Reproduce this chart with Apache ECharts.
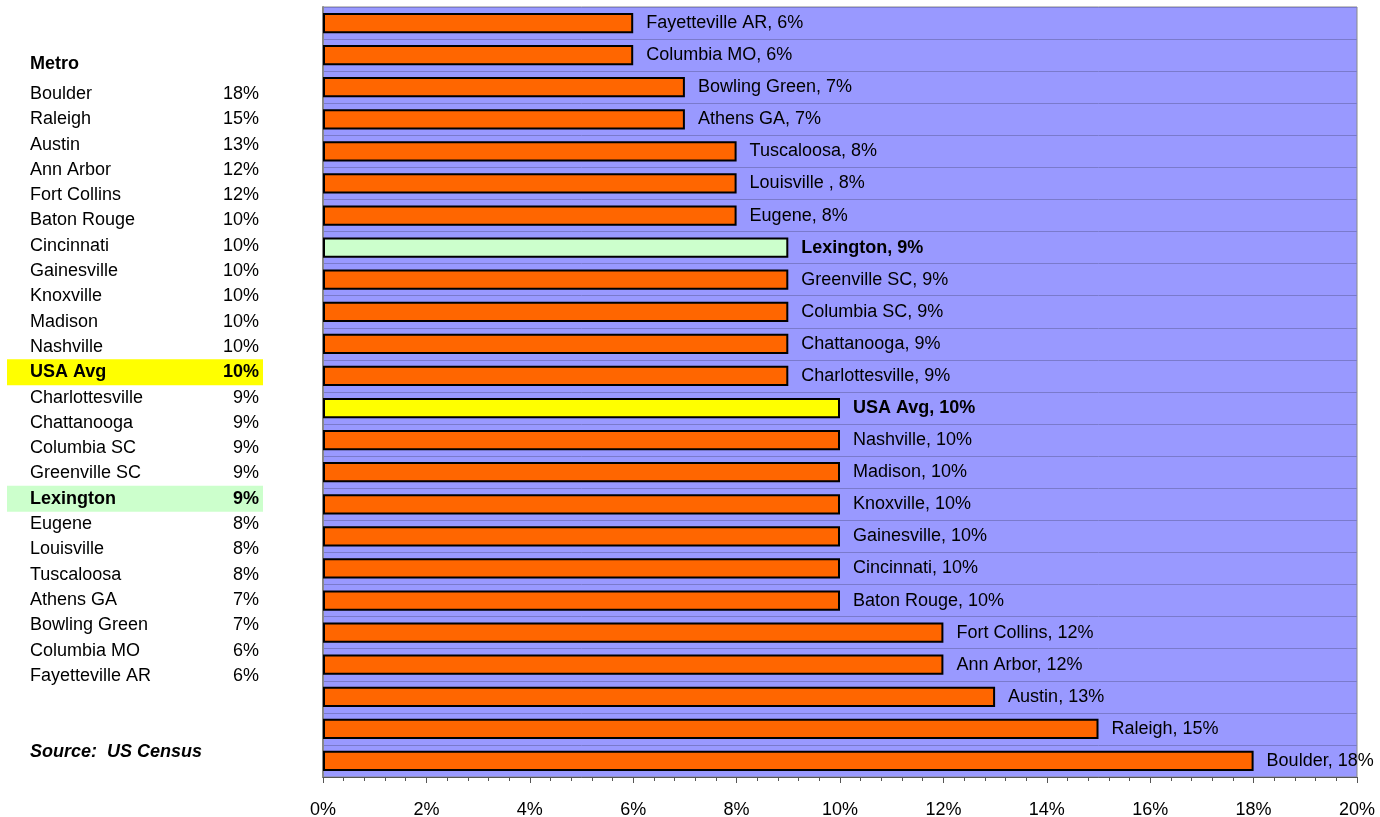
<!DOCTYPE html>
<html>
<head>
<meta charset="utf-8">
<title>Metro share</title>
<script src="https://cdn.jsdelivr.net/npm/echarts@6/dist/echarts.min.js"></script>
<style>
  html, body { margin: 0; padding: 0; background: #fff; }
  #chart { width: 1380px; height: 817px; }
</style>
</head>
<body>
<div id="chart"></div>
<script>
// table order, top to bottom (chart draws first category at the bottom)
const metros = [
  'Boulder', 'Raleigh', 'Austin', 'Ann Arbor', 'Fort Collins', 'Baton Rouge',
  'Cincinnati', 'Gainesville', 'Knoxville', 'Madison', 'Nashville', 'USA Avg',
  'Charlottesville', 'Chattanooga', 'Columbia SC', 'Greenville SC', 'Lexington',
  'Eugene', 'Louisville ', 'Tuscaloosa', 'Athens GA', 'Bowling Green',
  'Columbia MO', 'Fayetteville AR'
];
const shares = [
  0.18, 0.15, 0.13, 0.12, 0.12, 0.10,
  0.10, 0.10, 0.10, 0.10, 0.10, 0.10,
  0.09, 0.09, 0.09, 0.09, 0.09,
  0.08, 0.08, 0.08, 0.07, 0.07,
  0.06, 0.06
];
const highlightColors = { 'USA Avg': '#FFFF00', 'Lexington': '#CCFFCC' };
const barColor = '#FF6600';

const font = '"Liberation Sans", Arial, sans-serif';
const fontSize = 18;
const pct = v => Math.round(v * 100) + '%';

// left-hand table
const tableTop = 94;
const rowStep = 25.3;
const tableGraphics = [
  { type: 'text', x: 30, y: 64, style: { text: 'Metro', font: `bold ${fontSize}px ${font}`, fill: '#000', verticalAlign: 'middle' } }
];
metros.forEach((name, i) => {
  const y = tableTop + i * rowStep;
  const hl = highlightColors[name];
  const weight = hl ? 'bold ' : '';
  if (hl) {
    tableGraphics.push({ type: 'rect', shape: { x: 7, y: y - 13, width: 256, height: 26 }, style: { fill: hl }, z: 0 });
  }
  tableGraphics.push({ type: 'text', x: 30, y: y, style: { text: name.trim(), font: `${weight}${fontSize}px ${font}`, fill: '#000', verticalAlign: 'middle', align: 'left' }, z: 1 });
  tableGraphics.push({ type: 'text', x: 259, y: y, style: { text: pct(shares[i]), font: `${weight}${fontSize}px ${font}`, fill: '#000', verticalAlign: 'middle', align: 'right' }, z: 1 });
});
tableGraphics.push({ type: 'text', x: 30, y: 752, style: { text: 'Source:  US Census', font: `italic bold ${fontSize}px ${font}`, fill: '#000', verticalAlign: 'middle' } });

const chart = echarts.init(document.getElementById('chart'), null, { renderer: 'canvas' });
chart.setOption({
  animation: false,
  textStyle: { fontFamily: font },
  graphic: tableGraphics,
  grid: {
    left: 323, right: 23, top: 7, bottom: 40,
    outerBoundsMode: 'none', containLabel: false,
    show: true, backgroundColor: '#9999FF', borderColor: '#888888', borderWidth: 1
  },
  xAxis: {
    type: 'value', min: 0, max: 0.2, interval: 0.02,
    axisLine: { show: true, lineStyle: { color: '#555', width: 1 } },
    axisTick: { show: true, length: 6, lineStyle: { color: '#555' } },
    minorTick: { show: true, splitNumber: 5, length: 4, lineStyle: { color: '#555' } },
    splitLine: { show: false },
    axisLabel: { formatter: v => pct(v), color: '#000', fontSize: fontSize, margin: 24 }
  },
  yAxis: {
    type: 'category', data: metros,
    axisLine: { show: true, lineStyle: { color: '#888888', width: 2 } },
    axisTick: { show: false },
    axisLabel: { show: false },
    splitLine: { show: true, lineStyle: { color: '#7A7ACC', width: 1 } }
  },
  series: [{
    type: 'bar',
    barCategoryGap: '37%',
    data: metros.map((name, i) => {
      const hl = highlightColors[name];
      return {
        value: shares[i],
        itemStyle: { color: hl || barColor },
        label: { fontWeight: hl ? 'bold' : 'normal' }
      };
    }),
    itemStyle: { borderColor: '#000', borderWidth: 2 },
    label: {
      show: true, position: 'right', distance: 13,
      color: '#000', fontSize: fontSize,
      formatter: p => p.name + ', ' + pct(p.value)
    }
  }]
});
</script>
</body>
</html>
